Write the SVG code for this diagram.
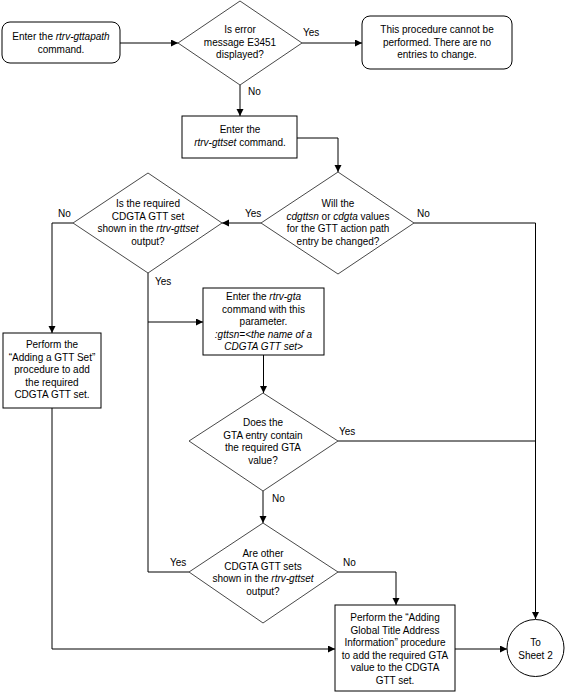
<svg xmlns="http://www.w3.org/2000/svg" width="565" height="693" viewBox="0 0 565 693">
<style>
.t{font-family:"Liberation Sans",Arial,sans-serif;font-size:10px;fill:#000;text-anchor:middle}
.l{font-family:"Liberation Sans",Arial,sans-serif;font-size:10px;fill:#000}
.i{font-style:italic}
.box{fill:#fff;stroke:#000;stroke-width:1}
.dia{fill:#fff;stroke:#333;stroke-width:0.9}
.c{fill:none;stroke:#000;stroke-width:1}
.a{marker-end:url(#arr)}
</style>
<defs>
<marker id="arr" markerUnits="userSpaceOnUse" markerWidth="8" markerHeight="8" refX="7" refY="3.5" orient="auto">
<path d="M0,0 L7,3.5 L0,7 z" fill="#000"/>
</marker>
</defs>
<rect width="565" height="693" fill="#fff"/>
<g id="connectors">
<path class="c a" d="M120,43 H178"/>
<path class="c a" d="M302,43 H362"/>
<path class="c a" d="M240,85 V116"/>
<path class="c a" d="M297,138 H338 V172"/>
<path class="c a" d="M261,223 H222"/>
<path class="c a" d="M414,223 H535.5 V619"/>
<path class="c a" d="M73,223 H52 V333"/>
<path class="c" d="M148,273 V572 H189"/>
<path class="c a" d="M148,322 H203"/>
<path class="c a" d="M263.5,355 V393"/>
<path class="c" d="M338,441 H535.5"/>
<path class="c a" d="M263,491 V523"/>
<path class="c a" d="M338,572 H396 V605"/>
<path class="c a" d="M52,408 V649 H335"/>
<path class="c a" d="M455,649 H507"/>
</g>
<g id="labels">
<text class="l" x="303" y="36">Yes</text>
<text class="l" x="248" y="95">No</text>
<text class="l" x="58" y="217">No</text>
<text class="l" x="245" y="217">Yes</text>
<text class="l" x="417" y="217">No</text>
<text class="l" x="155" y="285">Yes</text>
<text class="l" x="339" y="435">Yes</text>
<text class="l" x="272" y="502">No</text>
<text class="l" x="170" y="566">Yes</text>
<text class="l" x="343" y="566">No</text>
</g>
<g id="start">
<rect class="box" x="2" y="22" width="118" height="41" rx="8"/>
<text class="t" x="61" y="40">Enter the <tspan class="i">rtrv-gttapath</tspan></text>
<text class="t" x="61" y="52.5">command.</text>
</g>
<g id="d-error">
<polygon class="dia" points="240,1 302,43 240,85 178,43"/>
<text class="t" x="240" y="33">Is error</text>
<text class="t" x="240" y="45.5">message E3451</text>
<text class="t" x="240" y="58">displayed?</text>
</g>
<g id="cannot">
<rect class="box" x="362" y="16" width="150" height="53" rx="8"/>
<text class="t" x="437" y="33">This procedure cannot be</text>
<text class="t" x="437" y="45.5">performed. There are no</text>
<text class="t" x="437" y="58">entries to change.</text>
</g>
<g id="gttset">
<rect class="box" x="182" y="116" width="115" height="42"/>
<text class="t" x="240" y="133">Enter the</text>
<text class="t" x="240" y="145.5"><tspan class="i">rtrv-gttset</tspan> command.</text>
</g>
<g id="d-change">
<polygon class="dia" points="338,172 414,223 338,274 261,223"/>
<text class="t" x="338" y="207">Will the</text>
<text class="t" x="338" y="219.5"><tspan class="i">cdgttsn</tspan> or <tspan class="i">cdgta</tspan> values</text>
<text class="t" x="338" y="232">for the GTT action path</text>
<text class="t" x="338" y="244.5">entry be changed?</text>
</g>
<g id="d-shown">
<polygon class="dia" points="148,173 222,223 148,273 73,223"/>
<text class="t" x="148" y="207">Is the required</text>
<text class="t" x="148" y="219.5">CDGTA GTT set</text>
<text class="t" x="148" y="232">shown in the <tspan class="i">rtrv-gttset</tspan></text>
<text class="t" x="148" y="244.5">output?</text>
</g>
<g id="add-set">
<rect class="box" x="3" y="333" width="98" height="75"/>
<text class="t" x="52" y="348">Perform the</text>
<text class="t" x="52" y="360.5">“Adding a GTT Set”</text>
<text class="t" x="52" y="373">procedure to add</text>
<text class="t" x="52" y="385.5">the required</text>
<text class="t" x="52" y="398">CDGTA GTT set.</text>
</g>
<g id="rtrv-gta">
<rect class="box" x="203" y="288" width="121" height="67"/>
<text class="t" x="263.5" y="300">Enter the <tspan class="i">rtrv-gta</tspan></text>
<text class="t" x="263.5" y="312.5">command with this</text>
<text class="t" x="263.5" y="325">parameter.</text>
<text class="t i" x="263.5" y="337.5">:gttsn=&lt;the name of a</text>
<text class="t i" x="263.5" y="350">CDGTA GTT set&gt;</text>
</g>
<g id="d-gta">
<polygon class="dia" points="263,393 338,441 263,491 189,441"/>
<text class="t" x="263" y="426">Does the</text>
<text class="t" x="263" y="438.5">GTA entry contain</text>
<text class="t" x="263" y="451">the required GTA</text>
<text class="t" x="263" y="463.5">value?</text>
</g>
<g id="d-other">
<polygon class="dia" points="263,523 338,572 263,623 189,572"/>
<text class="t" x="263" y="557">Are other</text>
<text class="t" x="263" y="569.5">CDGTA GTT sets</text>
<text class="t" x="263" y="582">shown in the <tspan class="i">rtrv-gttset</tspan></text>
<text class="t" x="263" y="594.5">output?</text>
</g>
<g id="add-gta">
<rect class="box" x="335" y="605" width="120" height="86"/>
<text class="t" x="395" y="621">Perform the “Adding</text>
<text class="t" x="395" y="633.5">Global Title Address</text>
<text class="t" x="395" y="646">Information” procedure</text>
<text class="t" x="395" y="658.5">to add the required GTA</text>
<text class="t" x="395" y="671">value to the CDGTA</text>
<text class="t" x="395" y="683.5">GTT set.</text>
</g>
<g id="sheet2">
<circle class="box" cx="535.5" cy="648" r="28.5"/>
<text class="t" x="535.5" y="646">To</text>
<text class="t" x="535.5" y="658.5">Sheet 2</text>
</g>
</svg>
